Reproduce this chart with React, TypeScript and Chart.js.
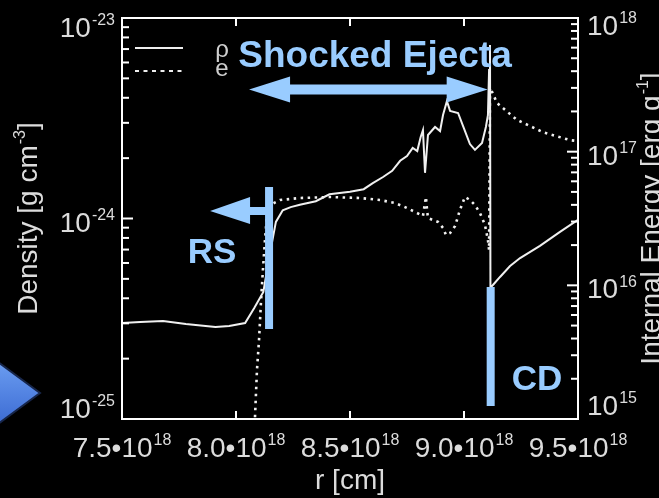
import React, { useEffect, useRef } from "react";
import { Chart, registerables } from "chart.js";

Chart.register(...registerables);

// radius in units of 10^18 cm
const rDensity = [
  7.5, 7.58, 7.68, 7.78, 7.91, 7.97, 8.04, 8.08, 8.12, 8.14, 8.16, 8.175, 8.205, 8.24, 8.28,
  8.35, 8.41, 8.5, 8.56, 8.6, 8.645, 8.685, 8.72, 8.75, 8.775, 8.795, 8.81, 8.82, 8.829, 8.842,
  8.873, 8.895, 8.908, 8.925, 8.939, 8.974, 8.996, 9.026, 9.048, 9.079, 9.096, 9.105, 9.11,
  9.114, 9.116, 9.127, 9.158, 9.202, 9.246, 9.333, 9.421, 9.5,
];
// g cm^-3
const density = [
  3.01e-25, 3.05e-25, 3.08e-25, 2.98e-25, 2.88e-25, 2.91e-25, 3.01e-25, 3.58e-25, 4.3e-25,
  5.86e-25, 7.82e-25, 9.62e-25, 1.1e-24, 1.14e-24, 1.17e-24, 1.22e-24, 1.32e-24, 1.36e-24,
  1.4e-24, 1.5e-24, 1.61e-24, 1.73e-24, 1.94e-24, 2.05e-24, 2.25e-24, 2.17e-24, 2.55e-24,
  2.76e-24, 1.69e-24, 2.61e-24, 2.86e-24, 2.73e-24, 3.28e-24, 3.85e-24, 3.44e-24, 3.36e-24,
  2.89e-24, 2.35e-24, 2.2e-24, 2.38e-24, 2.86e-24, 3.28e-24, 5.51e-24, 7.33e-24, 4.5e-25,
  4.66e-25, 5.11e-25, 5.79e-25, 6.35e-25, 7.3e-25, 8.57e-25, 9.84e-25,
];

const rEnergy = [
  8.079, 8.083, 8.092, 8.101, 8.11, 8.118, 8.127, 8.136, 8.149, 8.193, 8.281, 8.412, 8.544,
  8.632, 8.697, 8.741, 8.785, 8.82, 8.833, 8.838, 8.842, 8.864, 8.886, 8.908, 8.921, 8.939,
  8.961, 8.982, 9.004, 9.026, 9.048, 9.07, 9.092, 9.105, 9.11, 9.114, 9.123, 9.145, 9.232,
  9.346, 9.465, 9.5,
];
// erg g^-1
const energy = [
  5e14, 1.0e15, 2.33e15, 3.9e15, 7.76e15, 1.3e16, 2.18e16, 3.36e16, 3.99e16, 4.35e16, 4.5e16,
  4.58e16, 4.5e16, 4.35e16, 4.13e16, 3.85e16, 3.54e16, 3.3e16, 4.58e16, 3.66e16, 3.19e16,
  3.08e16, 2.98e16, 2.69e16, 2.38e16, 2.46e16, 2.78e16, 3.66e16, 4.58e16, 4.35e16, 3.99e16,
  3.48e16, 2.83e16, 2.18e16, 1.84e16, 2.99e17, 2.8e17, 2.31e17, 1.73e17, 1.4e17, 1.22e17,
  1.2e17,
];

const xTicks = [7.5, 8.0, 8.5, 9.0, 9.5];
const xTickLabels = ["7.5•10", "8.0•10", "8.5•10", "9.0•10", "9.5•10"];
const xTickExp = "18";
const densityDecades = [-25, -24, -23];
const energyDecades = [15, 16, 17, 18];

const RS_R = 8.145;
const CD_R = 9.117;

const FONT = '"Liberation Sans", Arial, Helvetica, sans-serif';
const TEXT = "#dcdcdc";
const BLUE = "rgb(153,204,255)";

type Seg = { t: string; sup?: boolean };

function drawRich(
  ctx: CanvasRenderingContext2D,
  segs: Seg[],
  x: number,
  baseline: number,
  align: "left" | "right" | "center",
  size: number
) {
  const supSize = Math.round(size * 0.58);
  const widths = segs.map((s) => {
    ctx.font = `${s.sup ? supSize : size}px ${FONT}`;
    return ctx.measureText(s.t).width + (s.sup ? 1 : 0);
  });
  const total = widths.reduce((a, b) => a + b, 0);
  let cx = align === "right" ? x - total : align === "center" ? x - total / 2 : x;
  ctx.textAlign = "left";
  ctx.textBaseline = "alphabetic";
  segs.forEach((s, i) => {
    ctx.font = `${s.sup ? supSize : size}px ${FONT}`;
    ctx.fillText(s.t, cx + (s.sup ? 1 : 0), s.sup ? baseline - size * 0.42 : baseline);
    cx += widths[i];
  });
}

const overlayPlugin = {
  id: "overlay",
  afterDraw(chart: any) {
    const ctx: CanvasRenderingContext2D = chart.ctx;
    const ca = chart.chartArea;
    const xs = chart.scales.x;
    const yl = chart.scales.y;
    const yr = chart.scales.y2;
    const size = 28;
    ctx.save();
    ctx.setLineDash([]);

    // frame
    ctx.strokeStyle = "#ffffff";
    ctx.lineWidth = 2;
    ctx.strokeRect(ca.left, ca.top, ca.right - ca.left, ca.bottom - ca.top);

    // inward ticks
    ctx.fillStyle = "#ffffff";
    xTicks.forEach((v) => {
      const px = xs.getPixelForValue(v);
      if (px > ca.left + 2 && px < ca.right - 2) {
        ctx.fillRect(px - 1, ca.bottom - 8, 2, 8);
        ctx.fillRect(px - 1, ca.top, 2, 8);
      }
    });
    const logTicks = (scale: any, decades: number[], side: "l" | "r") => {
      for (let k = 0; k < decades.length; k++) {
        const d = decades[k];
        for (let m = 1; m <= 9; m++) {
          if (k === decades.length - 1 && m > 1) break;
          const py = scale.getPixelForValue(m * Math.pow(10, d));
          if (!(py > ca.top + 1 && py < ca.bottom - 1)) continue;
          const len = m === 1 ? 11 : 7;
          if (side === "l") ctx.fillRect(ca.left, py - 1, len, 2);
          else ctx.fillRect(ca.right - len, py - 1, len, 2);
        }
      }
    };
    logTicks(yl, densityDecades, "l");
    logTicks(yr, energyDecades, "r");

    // tick labels
    ctx.fillStyle = TEXT;
    const clamp = (v: number, a: number, b: number) => Math.max(a, Math.min(b, v));
    densityDecades.forEach((d) => {
      const py = yl.getPixelForValue(Math.pow(10, d));
      const mid = clamp(py + 3, ca.top + 9, ca.bottom - 11);
      drawRich(ctx, [{ t: "10" }, { t: String(d), sup: true }], ca.left - 7, mid + size * 0.358, "right", size);
    });
    energyDecades.forEach((d) => {
      const py = yr.getPixelForValue(Math.pow(10, d));
      const mid = clamp(py + 3, ca.top + 7, ca.bottom - 14);
      drawRich(ctx, [{ t: "10" }, { t: String(d), sup: true }], ca.right + 9, mid + size * 0.358, "left", size);
    });
    xTicks.forEach((v, i) => {
      const px = xs.getPixelForValue(v);
      drawRich(ctx, [{ t: xTickLabels[i] }, { t: xTickExp, sup: true }], px, ca.bottom + 28 + size * 0.358, "center", size);
    });

    // axis titles
    drawRich(ctx, [{ t: "r [cm]" }], (ca.left + ca.right) / 2, 489, "center", size);
    ctx.save();
    ctx.translate(37, (ca.top + ca.bottom) / 2);
    ctx.rotate(-Math.PI / 2);
    drawRich(ctx, [{ t: "Density [g cm" }, { t: "-3", sup: true }, { t: "]" }], 0, 0, "center", size);
    ctx.restore();
    ctx.save();
    ctx.translate(660, (ca.top + ca.bottom) / 2);
    ctx.rotate(-Math.PI / 2);
    drawRich(ctx, [{ t: "Internal Energy [erg g" }, { t: "-1", sup: true }, { t: "]" }], 0, 0, "center", size);
    ctx.restore();

    // legend
    ctx.strokeStyle = "#eeeeee";
    ctx.lineWidth = 2.2;
    ctx.beginPath();
    ctx.moveTo(ca.left + 13, 48);
    ctx.lineTo(ca.left + 61, 48);
    ctx.stroke();
    ctx.setLineDash([4, 4.5]);
    ctx.beginPath();
    ctx.moveTo(ca.left + 13, 71);
    ctx.lineTo(ca.left + 61, 71);
    ctx.stroke();
    ctx.setLineDash([]);
    ctx.fillStyle = "#cfcfcf";
    ctx.font = `24px ${FONT}`;
    ctx.textAlign = "center";
    ctx.textBaseline = "middle";
    ctx.fillText("ρ", 222, 50);
    ctx.fillText("e", 222, 69);

    // annotations
    ctx.fillStyle = BLUE;
    ctx.font = `bold 37px ${FONT}`;
    ctx.textAlign = "center";
    ctx.textBaseline = "alphabetic";
    ctx.fillText("Shocked Ejecta", 375, 67);

    const rsX = xs.getPixelForValue(RS_R);
    const cdX = xs.getPixelForValue(CD_R);
    const ay = 89.5;
    const leftTip = rsX - 20;
    const rightTip = cdX - 3;
    ctx.beginPath();
    ctx.moveTo(leftTip, ay);
    ctx.lineTo(leftTip + 41, ay - 13);
    ctx.lineTo(leftTip + 41, ay - 5);
    ctx.lineTo(rightTip - 41, ay - 5);
    ctx.lineTo(rightTip - 41, ay - 13);
    ctx.lineTo(rightTip, ay);
    ctx.lineTo(rightTip - 41, ay + 13);
    ctx.lineTo(rightTip - 41, ay + 5);
    ctx.lineTo(leftTip + 41, ay + 5);
    ctx.lineTo(leftTip + 41, ay + 13);
    ctx.closePath();
    ctx.fill();

    ctx.fillRect(rsX - 4, 187, 8, 142);
    const ry = 211;
    ctx.beginPath();
    ctx.moveTo(rsX - 59, ry);
    ctx.lineTo(rsX - 19, ry - 14);
    ctx.lineTo(rsX - 19, ry - 4);
    ctx.lineTo(rsX, ry - 4);
    ctx.lineTo(rsX, ry + 4);
    ctx.lineTo(rsX - 19, ry + 4);
    ctx.lineTo(rsX - 19, ry + 13);
    ctx.closePath();
    ctx.fill();
    ctx.font = `bold 35px ${FONT}`;
    ctx.fillText("RS", 212, 263);

    ctx.fillRect(cdX - 4, 287, 8, 119);
    ctx.fillText("CD", 537, 390);

    const g = ctx.createLinearGradient(0, 363, 0, 423);
    g.addColorStop(0, "#6a9cf0");
    g.addColorStop(1, "#3d6cd4");
    ctx.fillStyle = g;
    ctx.strokeStyle = "#17264a";
    ctx.lineWidth = 2;
    ctx.beginPath();
    ctx.moveTo(-2, 362);
    ctx.lineTo(40, 393);
    ctx.lineTo(-2, 424);
    ctx.closePath();
    ctx.fill();
    ctx.stroke();

    ctx.restore();
  },
};

export default function App() {
  const ref = useRef<HTMLCanvasElement | null>(null);
  useEffect(() => {
    document.body.style.margin = "0";
    document.body.style.background = "#000";
    const canvas = ref.current;
    if (!canvas) return;
    const chart = new Chart(canvas, {
      type: "line",
      data: {
        datasets: [
          {
            label: "ρ",
            data: rDensity.map((x, i) => ({ x, y: density[i] })),
            xAxisID: "x",
            yAxisID: "y",
            borderColor: "#f0f0f0",
            borderWidth: 2,
            pointRadius: 0,
            tension: 0,
            fill: false,
          },
          {
            label: "e",
            data: rEnergy.map((x, i) => ({ x, y: energy[i] })),
            xAxisID: "x",
            yAxisID: "y2",
            borderColor: "#f0f0f0",
            borderWidth: 2.6,
            borderDash: [2.5, 4.5],
            pointRadius: 0,
            tension: 0,
            fill: false,
          },
        ],
      },
      options: {
        animation: false,
        responsive: false,
        devicePixelRatio: 1,
        layout: { padding: { top: 18, left: 0, right: 0, bottom: 0 } },
        plugins: { legend: { display: false }, tooltip: { enabled: false } },
        scales: {
          x: {
            type: "linear",
            min: 7.5,
            max: 9.5,
            ticks: { display: false },
            grid: { display: false },
            border: { display: false },
            afterFit: (s: any) => {
              s.height = 79;
            },
          },
          y: {
            type: "logarithmic",
            position: "left",
            min: 1e-25,
            max: 1e-23,
            ticks: { display: false },
            grid: { display: false },
            border: { display: false },
            afterFit: (s: any) => {
              s.width = 122;
            },
          },
          y2: {
            type: "logarithmic",
            position: "right",
            min: 1e15,
            max: 1e18,
            ticks: { display: false },
            grid: { display: false },
            border: { display: false },
            afterFit: (s: any) => {
              s.width = 81;
            },
          },
        },
      } as any,
      plugins: [overlayPlugin],
    });
    return () => chart.destroy();
  }, []);
  return (
    <div
      style={{
        position: "fixed",
        left: 0,
        top: 0,
        width: 659,
        height: 498,
        background: "#000",
        overflow: "hidden",
      }}
    >
      <canvas ref={ref} width={659} height={498} style={{ display: "block" }} />
    </div>
  );
}
